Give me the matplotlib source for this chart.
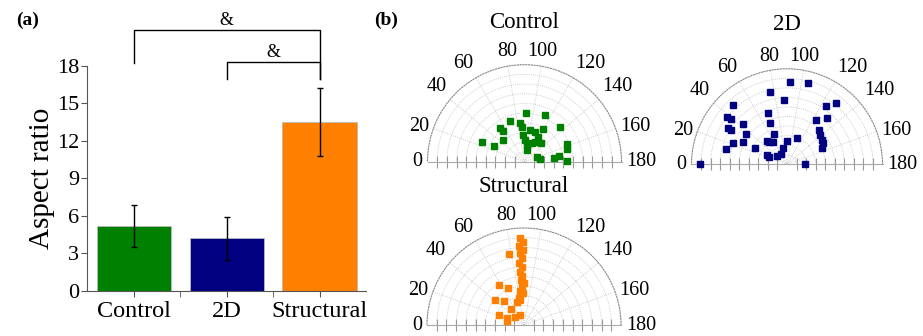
import numpy as np
from matplotlib import pyplot as plt

plt.rcParams['font.family'] = ['Liberation Serif', 'DejaVu Serif']

# bar chart data
groups = ["Control", "2D", "Structural"]
aspect_mean = [5.2, 4.2, 13.5]
aspect_err = [1.7, 1.7, 2.7]
bar_colors = ["#008000", "#000080", "#ff8000"]

# polar scatter data: angle (deg) and normalised distance
angle_ticks = list(range(0, 181, 20))

control_theta = [24.3, 26.9, 44.3, 54.2, 55.4, 70.5, 91.8, 83.4, 85.9, 87.5, 92.2, 100.5, 99.9, 109.7,
                 119.1, 114.1, 135.4, 117.7, 131.4, 157.7, 170.2, 172.3, 170.6, 179.1, 157.7, 163.3,
                 111.3, 99.6, 119.0]
control_r = [0.485, 0.357, 0.315, 0.432, 0.384, 0.448, 0.505, 0.405, 0.362, 0.275, 0.223, 0.122, 0.331,
             0.321, 0.385, 0.527, 0.514, 0.233, 0.252, 0.136, 0.162, 0.307, 0.357, 0.435, 0.470, 0.454,
             0.203, 0.174, 0.295]

d2_theta = [0, 14.1, 22.0, 27.1, 26.6, 36.5, 42.5, 31.2, 31.6, 37.9, 39.4, 47.9, 69.7, 67.8, 76.5, 87.3,
            92.1, 104.8, 66.8, 48.9, 58.2, 51.2, 25.4, 21.3, 40.8, 59.3, 75.4, 89.2, 111.7, 180.0,
            123.4, 133.3, 138.4, 144.9, 149.5, 155.6, 130.8, 123.4, 128.7]
d2_r = [0.913, 0.660, 0.607, 0.522, 0.375, 0.535, 0.621, 0.728, 0.694, 0.802, 0.755, 0.839, 0.574, 0.472,
        0.777, 0.679, 0.861, 0.879, 0.346, 0.325, 0.272, 0.296, 0.228, 0.203, 0.134, 0.130, 0.181, 0.245,
        0.293, 0.189, 0.553, 0.495, 0.463, 0.444, 0.434, 0.407, 0.637, 0.737, 0.816]

struct_theta = [87.4, 89.1, 86.6, 89.0, 86.8, 88.0, 85.7, 88.0, 85.7, 87.7, 85.8, 90.0, 87.0, 83.4, 87.6,
                78.7, 72.6, 80.9, 78.3, 58.3, 66.8, 40.4, 50.2, 49.6, 21.1, 21.8, 14.6, 40.4, 68.2]
struct_r = [0.894, 0.859, 0.816, 0.773, 0.740, 0.688, 0.644, 0.602, 0.551, 0.506, 0.465, 0.430, 0.396,
            0.356, 0.327, 0.280, 0.252, 0.261, 0.747, 0.485, 0.419, 0.397, 0.322, 0.212, 0.276, 0.185,
            0.178, 0.122, 0.111]

fig = plt.figure(figsize=(9.23, 3.36), dpi=100)

# ---- (a) bar chart
ax = fig.add_axes([0.0946, 0.134, 0.302, 0.670])
x = np.arange(len(groups))
ax.bar(x, aspect_mean, width=0.8, color=bar_colors, edgecolor="#bbbbbb", linewidth=0.6,
       yerr=aspect_err, error_kw=dict(ecolor="black", elinewidth=1, capsize=2.5, capthick=1))
ax.set_xlim(-0.5, 2.5)
ax.set_ylim(0, 18)
ax.set_yticks(range(0, 19, 3))
ax.set_xticks(x)
ax.set_xticklabels(groups, fontsize=17.5)
ax.set_xticks([0.5, 1.5], minor=True)
ax.tick_params(axis="y", labelsize=16, direction="out", length=4, color="#555555", pad=2)
ax.tick_params(axis="x", which="both", direction="out", length=4, color="#555555")
ax.set_ylabel("Aspect ratio", fontsize=21, labelpad=1)
for s in ["top", "right"]:
    ax.spines[s].set_visible(False)
for s in ["left", "bottom"]:
    ax.spines[s].set_color("#555555")

# significance brackets
def bracket(x0, x1, y, y0, y1, ax=ax):
    ax.plot([x0, x0, x1, x1], [y0, y, y, y1], color="black", lw=1, clip_on=False)
    ax.text((x0 + x1) / 2, y + 0.05, "&", ha="center", va="bottom", fontsize=13)

bracket(0, 2, 20.9, 18.25, 16.95)
bracket(1, 2, 18.3, 16.95, 16.95)

fig.text(0.018, 0.94, "(a)", fontsize=14, fontweight="bold", va="center")
fig.text(0.405, 0.94, "(b)", fontsize=14, fontweight="bold", va="center")

# ---- (b) polar plots
def half_polar(cx, cy, R, theta, r, color, title, ty):
    # cx, cy, R in pixels (cy from the top); the square box holds the half disc in its middle
    W, H = 923.0, 336.0
    rect = [(cx - R) / W, (H - cy - R / 2) / H, 2 * R / W, 2 * R / H]
    pax = fig.add_axes(rect, projection="polar")
    pax.set_theta_zero_location("W")
    pax.set_theta_direction(-1)
    pax.set_thetamin(0)
    pax.set_thetamax(180)
    pax.set_ylim(0, 1)
    pax.plot(np.radians(theta), r, "s", color=color, markersize=5, clip_on=False, zorder=3)
    pax.set_thetagrids(angle_ticks, labels=[""] * len(angle_ticks))
    for a in angle_ticks:
        ha = "right" if a < 75 else ("left" if a > 105 else "center")
        va = "center" if (a < 30 or a > 150) else "bottom"
        pax.text(np.radians(a), 1.05, str(a), ha=ha, va=va, fontsize=14.5)
    pax.set_rgrids(np.arange(0.1, 1.0, 0.1), labels=[])
    pax.grid(True, color="#c0c0c0", lw=0.6, linestyle=(0, (1, 1.5)))
    pax.spines["polar"].set_color("#888888")
    pax.spines["polar"].set_linestyle((0, (1, 1.5)))
    pax.spines["polar"].set_linewidth(0.8)
    pax.spines["start"].set_color("#aaaaaa")
    pax.spines["end"].set_color("#aaaaaa")
    pax.tick_params(axis="y", which="both", left=True, right=True, length=4,
                    direction="inout", color="#999999")
    fig.text(cx / W, 1 - ty / H, title, fontsize=16.5, ha="center", va="center")
    return pax

half_polar(524.5, 161.7, 97, control_theta, control_r, "#008000", "Control", 23)
half_polar(787, 164.3, 95.5, d2_theta, d2_r, "#000080", "2D", 24)
half_polar(524, 325, 97, struct_theta, struct_r, "#ff8000", "Structural", 186)

plt.savefig("out.png", dpi=100)
